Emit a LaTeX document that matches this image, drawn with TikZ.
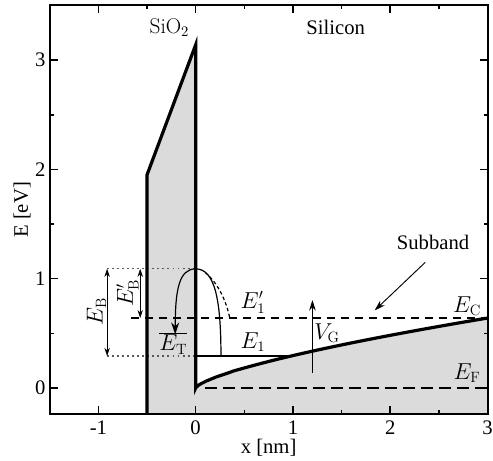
\documentclass[tikz,border=0pt]{standalone}
\usepackage{fontspec}
\newfontfamily\timesfont{Liberation Serif}
\usetikzlibrary{arrows.meta}
\begin{document}
\begin{tikzpicture}[x=72.975pt,y=81.975pt,
  frame/.style={line width=1.5pt},
  band/.style={line width=2.4pt, line join=miter},
  tlabel/.style={font=\timesfont\fontsize{15.5}{17}\selectfont, inner sep=0pt},
  mlabel/.style={font=\fontsize{16}{18}\selectfont, inner sep=0pt},
  dotline/.style={dash pattern=on 1.4pt off 2.4pt, line width=0.9pt, black!65},
  thindash/.style={dash pattern=on 6pt off 4.5pt, line width=0.9pt},
  fermidash/.style={dash pattern=on 9pt off 4.5pt, line width=1.6pt},
  thinarrow/.style={line width=0.7pt, -{Stealth[length=8pt,width=5pt]}},
  dblarrow/.style={line width=0.6pt, {Stealth[length=6pt,width=4pt]}-{Stealth[length=6pt,width=4pt]}},
  fillgray/.style={fill=gray!28}
]
\useasboundingbox (-2.011,-0.659) rectangle (3.056,3.550);

% gray regions
\fill[fillgray] (-0.5,-0.24) -- (-0.5,1.95) -- (0,3.14) -- (0,0)
  -- plot[domain=0.002:3, samples=120] (\x, {0.64*(\x/3)^0.7}) -- (3,-0.24) -- cycle;

% dotted level lines
\draw[dotline] (-0.915,1.09) -- (0,1.09);
\draw[dotline] (-0.915,0.293) -- (0,0.293);

% E_C and E_F lines
\draw[thindash] (-0.66,0.64) -- (3,0.64);
\draw[fermidash] (0.1,0) -- (3,0);

% E1 line
\draw[line width=0.8pt] (0,0.293) -- (0.97,0.293);

% band edges
\draw[band] (-0.5,-0.24) -- (-0.5,1.95) -- (0,3.14) -- (0,0)
  -- plot[domain=0.002:3, samples=120] (\x, {0.64*(\x/3)^0.7});

% tunnelling arch
\draw[line width=0.9pt, -{Stealth[length=9pt,width=6pt]}] (0.26,0.293)
  .. controls (0.26,0.8) and (0.2,1.09) .. (0,1.09)
  .. controls (-0.17,1.09) and (-0.21,0.9) .. (-0.21,0.49);
\draw[line width=0.9pt, dash pattern=on 2.5pt off 2pt] (0.1,1.055)
  .. controls (0.24,0.95) and (0.32,0.78) .. (0.35,0.64);

% barrier arrows
\coordinate (ebt) at (-0.91,1.09);
\coordinate (ebb) at (-0.91,0.293);
\coordinate (ept) at (-0.57,1.09);
\coordinate (epb) at (-0.57,0.64);
\draw[dblarrow] (ebt) -- (ebb);
\draw[dblarrow] (ept) -- (epb);
\node[mlabel, rotate=90] (lEB) at (-1.02,0.70) {$E_\mathrm{B}$};
\node[mlabel, rotate=90] (lEBp) at (-0.70,0.87) {$E'_\mathrm{B}$};

% V_G arrow
\coordinate (vgb) at (1.2,0.14);
\coordinate (vgt) at (1.2,0.805);
\draw[thinarrow] (vgb) -- (vgt);
\node[mlabel] (lVG) at (1.35,0.50) {$V_\mathrm{G}$};

% Subband
\node[tlabel] (lsub) at (2.44,1.33) {Subband};
\coordinate (subs) at (2.36,1.15);
\coordinate (sube) at (1.84,0.71);
\draw[thinarrow] (subs) -- (sube);

% level labels
\node[mlabel] (lEC) at (2.79,0.75) {$E_\mathrm{C}$};
\node[mlabel] (lEF) at (2.79,0.137) {$E_\mathrm{F}$};
\node[mlabel] (lE1) at (0.59,0.42) {$E_1$};
\node[mlabel] (lE1p) at (0.59,0.78) {$E'_1$};
\node[mlabel] (lET) at (-0.23,0.41) {$\overline{E_\mathrm{T}}$};

% region labels
\node[mlabel] (lsio) at (-0.27,3.3) {SiO$_2$};
\node[tlabel] (lsi) at (1.44,3.3) {Silicon};

% frame and ticks
\draw[frame] (-1.5,-0.24) rectangle (3,3.5);
\foreach \t in {-1,0,1,2} {
  \draw[line width=1.2pt] (\t,-0.24) -- ++(0pt,6pt);
  \draw[line width=1.2pt] (\t,3.5) -- ++(0pt,-6pt);
}
\foreach \t in {-0.5,0.5,1.5,2.5} {
  \draw[line width=1.2pt] (\t,-0.24) -- ++(0pt,3pt);
  \draw[line width=1.2pt] (\t,3.5) -- ++(0pt,-3pt);
}
\foreach \t in {0,1,2,3} {
  \draw[line width=1.2pt] (-1.5,\t) -- ++(6pt,0pt);
  \draw[line width=1.2pt] (3,\t) -- ++(-6pt,0pt);
}
\foreach \t in {0.5,1.5,2.5} {
  \draw[line width=1.2pt] (-1.5,\t) -- ++(3pt,0pt);
  \draw[line width=1.2pt] (3,\t) -- ++(-3pt,0pt);
}
% tick labels
\foreach \t/\s in {-1/-1,0/0,1/1,2/2,3/3} {
  \node[tlabel] (xt\t) at (\t,-0.36) {\s};
}
\foreach \t in {0,1,2,3} {
  \node[tlabel, anchor=east] (yt\t) at (-1.54,\t) {\t};
}
\node[tlabel] (xlab) at (0.75,-0.545) {x [nm]};
\node[tlabel, rotate=90] (ylab) at (-1.785,1.63) {E [eV]};
\end{tikzpicture}
\end{document}
